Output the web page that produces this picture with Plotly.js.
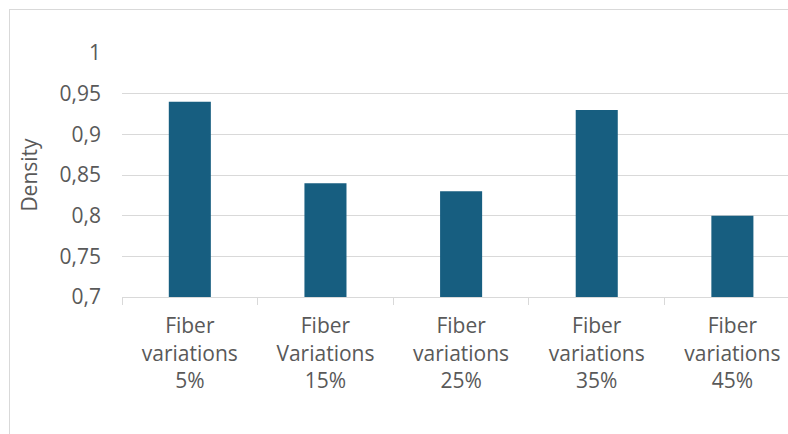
<!DOCTYPE html>
<html>
<head>
<meta charset="utf-8">
<script src="https://cdn.plot.ly/plotly-3.0.1.min.js"></script>
<style>
html,body{margin:0;padding:0;background:#fff;}
#wrap{position:relative;width:788px;height:434px;overflow:hidden;}
#chart{position:absolute;left:0;top:0;width:788px;height:434px;}
#frame{position:absolute;left:9px;top:9px;width:820px;height:460px;border:1px solid #d9d9d9;pointer-events:none;}
</style>
</head>
<body>
<div id="wrap"><div id="chart"></div><div id="frame"></div></div>
<script>
const categories = ["Fiber<br>variations<br>5%", "Fiber<br>Variations<br>15%", "Fiber<br>variations<br>25%", "Fiber<br>variations<br>35%", "Fiber<br>variations<br>45%"];
const density = [0.94, 0.84, 0.83, 0.93, 0.80];
const yTickVals = [0.7, 0.75, 0.8, 0.85, 0.9, 0.95, 1];
const yTickText = ["0,7", "0,75", "0,8", "0,85", "0,9", "0,95", "1"];

const font = {family: "Open Sans, sans-serif", size: 21, color: "#595959"};

Plotly.newPlot("chart", [{
  type: "bar",
  x: categories,
  y: density,
  width: 0.31,
  marker: {color: "#175e80"},
  hoverinfo: "none"
}], {
  width: 788, height: 434,
  margin: {l: 122, r: 0, t: 53, b: 137},
  paper_bgcolor: "#ffffff",
  plot_bgcolor: "#ffffff",
  font: font,
  showlegend: false,
  bargap: 0.69,
  xaxis: {
    type: "category",
    range: [-0.5, 4.41],
    showgrid: false,
    showline: true,
    linecolor: "#d9d9d9",
    linewidth: 1,
    ticks: "outside",
    tickson: "boundaries",
    ticklen: 7,
    tickcolor: "#d9d9d9",
    tickwidth: 1,
    ticklabelstandoff: 10,
    tickfont: font,
    zeroline: false,
    fixedrange: true
  },
  yaxis: {
    range: [0.7, 1],
    tickvals: yTickVals,
    ticktext: yTickText,
    showgrid: true,
    gridcolor: "#d9d9d9",
    gridwidth: 1,
    showline: false,
    ticks: "",
    zeroline: false,
    ticklabelstandoff: 20,
    tickfont: font,
    title: {text: "Density", font: font, standoff: 16},
    fixedrange: true
  }
}, {staticPlot: true, displayModeBar: false});
</script>
</body>
</html>
